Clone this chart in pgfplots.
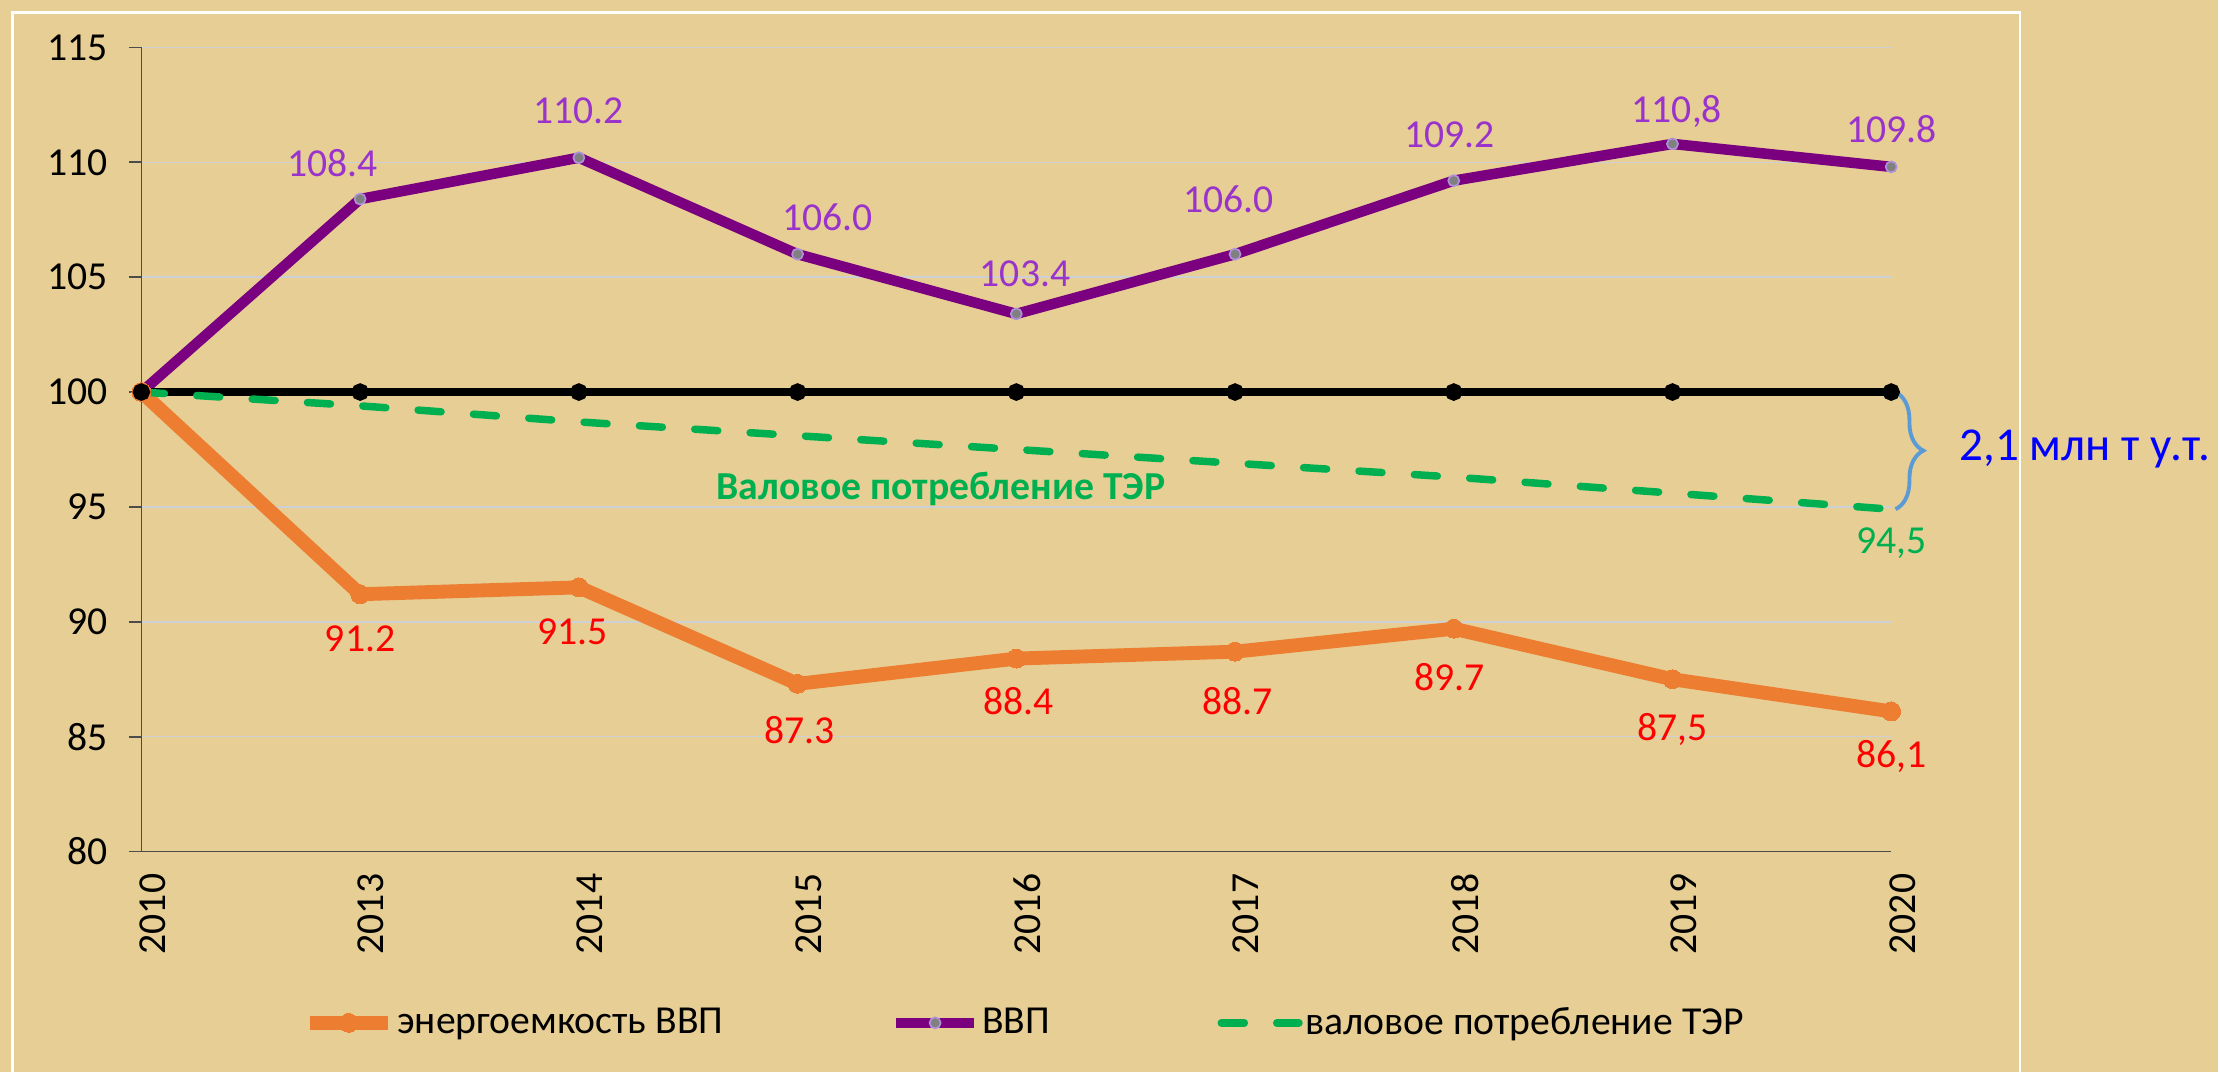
\documentclass[border=0pt]{standalone}
\usepackage{fontspec}
\setmainfont{Carlito}
\usepackage{pgfplots}
\pgfplotsset{compat=1.18}
\usetikzlibrary{decorations.pathreplacing}
\definecolor{bg}{RGB}{230,206,148}
\definecolor{orangec}{RGB}{237,125,49}
\definecolor{purplec}{RGB}{122,0,128}
\definecolor{purplelbl}{RGB}{153,51,204}
\definecolor{greenc}{RGB}{0,176,80}
\definecolor{bracec}{RGB}{91,155,213}
\definecolor{gridc}{RGB}{205,208,212}
\definecolor{lavender}{RGB}{175,145,220}
\tikzset{lbl/.style={font=\fontsize{14.3}{16}\selectfont}}
\begin{document}
\begin{tikzpicture}
\fill[bg] (0,0) rectangle (800pt,386.7pt);
\draw[white, line width=0.8pt] (4.5pt,0) -- (4.5pt,382.2pt) -- (728.3pt,382.2pt) -- (728.3pt,0);
\begin{axis}[
  at={(51pt,79.6pt)}, anchor=south west,
  width=631pt, height=290pt, scale only axis,
  xmin=0, xmax=8, ymin=80, ymax=115,
  xtick={0,1,2,3,4,5,6,7,8},
  xticklabels={2010,2013,2014,2015,2016,2017,2018,2019,2020},
  ytick={80,85,90,95,100,105,110,115},
  clip=false,
  axis x line*=bottom, axis y line*=left,
  axis line style={-, draw=black!70, line width=0.6pt},
  ymajorgrids, major grid style={draw=gridc, line width=0.5pt},
  tick align=outside, major tick length=4.5pt,
  xtick style={draw=none},
  ytick style={draw=black!70, line width=0.6pt},
  /pgf/number format/assume math mode=true,
  ticklabel style={font=\fontsize{14.3}{16}\selectfont},
  yticklabel style={xshift=-4pt},
  xticklabel style={rotate=90, anchor=east, yshift=-4pt},
  legend columns=3,
  legend style={at={(0.092,-0.213)}, anchor=west, draw=none, fill=none, inner sep=0pt,
    font=\fontsize{14.3}{16}\selectfont,
    nodes={inner xsep=1pt},
    /tikz/column 2/.style={column sep=59.5pt},
    /tikz/column 4/.style={column sep=59.5pt}},
  legend image code/.code={\draw[mark repeat=2, mark phase=2, #1] plot coordinates {(0pt,0pt) (14pt,0pt) (28pt,0pt)};},
]
\addplot[color=orangec, line width=5pt, line join=round, mark=*, mark size=3.4pt, mark options={fill=orangec, draw=orangec, line width=0pt, solid}]
 coordinates {(0,100) (1,91.2) (2,91.5) (3,87.3) (4,88.4) (5,88.7) (6,89.7) (7,87.5) (8,86.1)};
\addlegendentry{энергоемкость ВВП}
\addplot[color=purplec, line width=3.8pt, line join=round, mark=*, mark size=2pt, mark options={fill=gray, draw=lavender, line width=0.6pt, solid}]
 coordinates {(0,100) (1,108.4) (2,110.2) (3,106.0) (4,103.4) (5,106.0) (6,109.2) (7,110.8) (8,109.8)};
\addlegendentry{ВВП}
\addplot[color=black, line width=2.8pt, mark=*, mark size=1.7pt, forget plot]
 coordinates {(0,100) (1,100) (2,100) (3,100) (4,100) (5,100) (6,100) (7,100) (8,100)};
\addplot[color=greenc, line width=2.7pt, dash pattern=on 8.3pt off 11.7pt, line cap=round]
 coordinates {(0,100) (1,99.4) (2,98.7) (3,98.1) (4,97.5) (5,96.9) (6,96.3) (7,95.6) (8,94.9)};
\addlegendentry{валовое потребление ТЭР}
% value labels
\node[lbl, text=purplelbl] at (axis cs:0.873,109.95) {108.4};
\node[lbl, text=purplelbl] at (axis cs:2.0,112.23) {110.2};
\node[lbl, text=purplelbl] at (axis cs:3.137,107.6) {106.0};
\node[lbl, text=purplelbl] at (axis cs:4.04,105.14) {103.4};
\node[lbl, text=purplelbl] at (axis cs:4.97,108.4) {106.0};
\node[lbl, text=purplelbl] at (axis cs:5.98,111.18) {109.2};
\node[lbl, text=purplelbl] at (axis cs:7.02,112.23) {110,8};
\node[lbl, text=purplelbl] at (axis cs:8.0,111.43) {109.8};
\node[lbl, text=red] at (axis cs:1.0,89.25) {91.2};
\node[lbl, text=red] at (axis cs:1.97,89.55) {91.5};
\node[lbl, text=red] at (axis cs:3.01,85.3) {87.3};
\node[lbl, text=red] at (axis cs:4.01,86.53) {88.4};
\node[lbl, text=red] at (axis cs:5.01,86.53) {88.7};
\node[lbl, text=red] at (axis cs:5.98,87.58) {89.7};
\node[lbl, text=red] at (axis cs:7.0,85.3) {87,5};
\node[lbl, text=red] at (axis cs:8.0,84.13) {86,1};
\node[lbl, text=greenc] at (axis cs:8.0,93.43) {94,5};
\node[text=greenc, font=\fontsize{14.3}{16}\selectfont\bfseries] at (axis cs:3.655,95.8) {Валовое потребление ТЭР};
\draw[bracec, line width=1.4pt, decorate, decoration={brace, amplitude=10pt}] (axis cs:8.02,100) -- (axis cs:8.02,94.9);
\node[text=blue, font=\fontsize{17}{20}\selectfont] at (axis cs:8.887,97.5) {2,1 млн т у.т.};
\end{axis}
\end{tikzpicture}
\end{document}
